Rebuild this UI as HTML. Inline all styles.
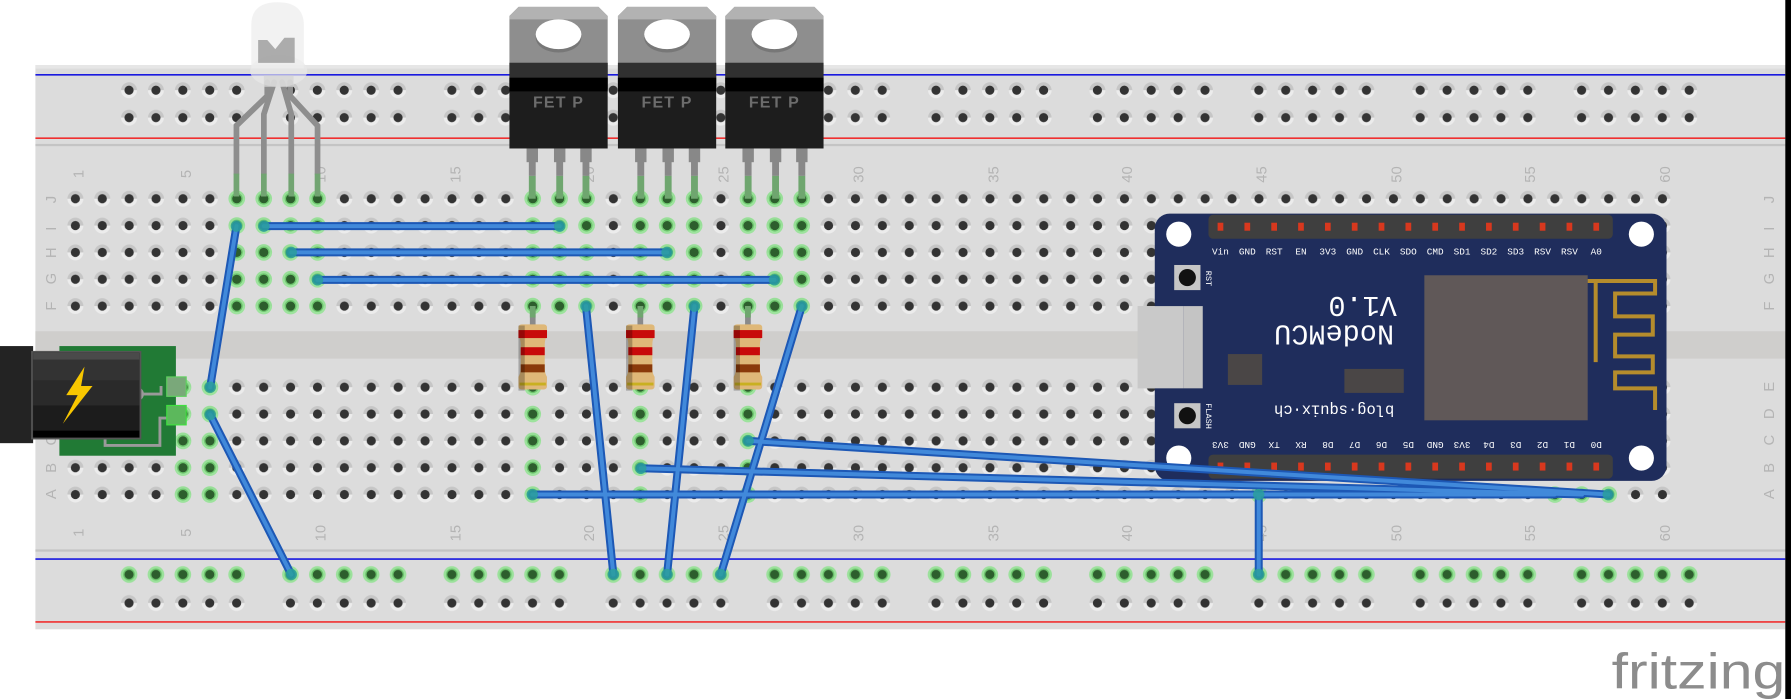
<!DOCTYPE html>
<html><head><meta charset="utf-8"><style>
html,body{margin:0;padding:0;background:#fff;overflow:hidden}
svg{display:block}
.lbl{font-family:"Liberation Sans",sans-serif;fill:#b4b4b4;font-size:13px}
.pin{font-family:"Liberation Mono",monospace;fill:#fff;font-size:8.2px;text-anchor:middle}
</style></head><body>
<svg width="1791" height="699" viewBox="0 0 1568 612" preserveAspectRatio="none" xmlns="http://www.w3.org/2000/svg">
<defs>
<g id="h"><path d="M-7,0a7,7 0 0 1 14,0z" fill="#c6c6c6"/><path d="M-7,0a7,7 0 0 0 14,0z" fill="#ececec"/><circle r="4" fill="#333"/></g>
<g id="g"><circle r="7.3" fill="#8fe28f" opacity=".85"/><circle r="5.2" fill="#6dc66d"/><circle r="4" fill="#2d5e2d"/></g>
<pattern id="pt" patternUnits="userSpaceOnUse" x="54.225" y="162.25" width="23.55" height="23.5"><use href="#h" x="11.775" y="11.75"/></pattern>
<pattern id="pb" patternUnits="userSpaceOnUse" x="54.225" y="327.25" width="23.55" height="23.5"><use href="#h" x="11.775" y="11.75"/></pattern>
<pattern id="pr1" patternUnits="userSpaceOnUse" x="101.2" y="67" width="141.3" height="24"><use href="#h" x="11.775" y="12"/><use href="#h" x="35.325" y="12"/><use href="#h" x="58.875" y="12"/><use href="#h" x="82.425" y="12"/><use href="#h" x="105.975" y="12"/></pattern>
<pattern id="pr2" patternUnits="userSpaceOnUse" x="101.2" y="516" width="141.3" height="24"><use href="#h" x="11.775" y="12"/><use href="#h" x="35.325" y="12"/><use href="#h" x="58.875" y="12"/><use href="#h" x="82.425" y="12"/><use href="#h" x="105.975" y="12"/></pattern>
<pattern id="pg" patternUnits="userSpaceOnUse" x="101.2" y="491" width="141.3" height="24"><use href="#g" x="11.775" y="12"/><use href="#g" x="35.325" y="12"/><use href="#g" x="58.875" y="12"/><use href="#g" x="82.425" y="12"/><use href="#g" x="105.975" y="12"/></pattern>
<g id="gcol"><use href="#g" y="174"/><use href="#g" y="197.5"/><use href="#g" y="221"/><use href="#g" y="244.5"/><use href="#g" y="268"/></g>
<g id="gcolb"><use href="#g" y="339"/><use href="#g" y="362.5"/><use href="#g" y="386"/><use href="#g" y="409.5"/><use href="#g" y="433"/></g>
<g id="fet">
 <polygon points="0,14 8,6 78,6 86,14 86,55 0,55" fill="#8e8e8e"/>
 <polygon points="0,14 8,6 78,6 86,14 86,17 0,17" fill="#b2b2b2"/>
 <ellipse cx="43" cy="33" rx="20" ry="13" fill="#777"/>
 <ellipse cx="43" cy="30" rx="20" ry="13" fill="#fff"/>
 <rect x="0" y="55" width="86" height="75" fill="#1d1d1d"/>
 <rect x="0" y="55" width="86" height="23" fill="#303030"/>
 <rect x="0" y="68" width="86" height="12" fill="#000"/>
 <text x="43" y="94" text-anchor="middle" font-family="Liberation Sans,sans-serif" font-weight="bold" font-size="14" letter-spacing="1" fill="#6c6c6c">FET P</text>
 <rect x="15" y="130" width="10" height="12" fill="#888"/><rect x="39" y="130" width="10" height="12" fill="#888"/><rect x="62" y="130" width="10" height="12" fill="#888"/>
 <rect x="17" y="140" width="6" height="14" fill="#888"/><rect x="41" y="140" width="6" height="14" fill="#888"/><rect x="64" y="140" width="6" height="14" fill="#888"/>
 <rect x="17" y="154" width="6" height="20" fill="#6fa66f"/><rect x="41" y="154" width="6" height="20" fill="#6fa66f"/><rect x="64" y="154" width="6" height="20" fill="#6fa66f"/>
</g>
<g id="res">
 <rect x="-2.5" y="268" width="5" height="72" fill="#8a8a8a"/>
 <rect x="-2.5" y="268" width="5" height="10" fill="#6fa66f"/><rect x="-2.5" y="328" width="5" height="11" fill="#6fa66f"/>
 <path d="M-12.5,287q0,-3 3,-3h19q3,0 3,3v7q-2,3 -2,8v20q0,5 2,8v8q0,3 -3,3h-19q-3,0 -3,-3v-8q2,-3 2,-8v-20q0,-5 -2,-8z" fill="#dfb878"/>
 <rect x="-12.5" y="289" width="25" height="7" fill="#c80a0a"/>
 <rect x="-10.5" y="304" width="21" height="7" fill="#c80a0a"/>
 <rect x="-10.5" y="319" width="21" height="7" fill="#8a3a0a"/>
 <rect x="-11.5" y="335" width="23" height="2.5" fill="#c9b020"/>
 <rect x="-12.5" y="285" width="5.5" height="57" fill="#000" opacity=".25"/>
</g>
</defs>

<!-- breadboard -->
<rect x="31" y="57" width="1532" height="494" fill="#dcdcdc"/>
<rect x="31" y="57" width="1532" height="3" fill="#e6e6e6"/>
<line x1="31" y1="65.5" x2="1563" y2="65.5" stroke="#1a1ae0" stroke-width="1.4"/>
<line x1="31" y1="121" x2="1563" y2="121" stroke="#f03030" stroke-width="1.4"/>
<rect x="31" y="126" width="1532" height="2" fill="#c4c4c4"/>
<rect x="31" y="290" width="1532" height="24" fill="#cfcecc"/>
<rect x="31" y="481" width="1532" height="2" fill="#c4c4c4"/>
<line x1="31" y1="489.5" x2="1563" y2="489.5" stroke="#1a1ae0" stroke-width="1.4"/>
<line x1="31" y1="544.5" x2="1563" y2="544.5" stroke="#f03030" stroke-width="1.4"/>

<rect x="101.2" y="67" width="1413" height="48" fill="url(#pr1)"/>
<rect x="54.225" y="162.25" width="1413" height="117.5" fill="url(#pt)"/>
<rect x="54.225" y="327.25" width="1413" height="117.5" fill="url(#pb)"/>
<rect x="101.2" y="491" width="1413" height="24" fill="url(#pg)"/>
<rect x="101.2" y="516" width="1413" height="24" fill="url(#pr2)"/>

<!-- labels -->
<g class="lbl">
<text transform="translate(73,156) rotate(-90)">1</text>
<text transform="translate(167,156) rotate(-90)">5</text>
<text transform="translate(285,160) rotate(-90)">10</text>
<text transform="translate(403,160) rotate(-90)">15</text>
<text transform="translate(520,160) rotate(-90)">20</text>
<text transform="translate(638,160) rotate(-90)">25</text>
<text transform="translate(756,160) rotate(-90)">30</text>
<text transform="translate(874,160) rotate(-90)">35</text>
<text transform="translate(991,160) rotate(-90)">40</text>
<text transform="translate(1109,160) rotate(-90)">45</text>
<text transform="translate(1227,160) rotate(-90)">50</text>
<text transform="translate(1344,160) rotate(-90)">55</text>
<text transform="translate(1462,160) rotate(-90)">60</text>
<text transform="translate(73,470) rotate(-90)">1</text>
<text transform="translate(167,470) rotate(-90)">5</text>
<text transform="translate(285,474) rotate(-90)">10</text>
<text transform="translate(403,474) rotate(-90)">15</text>
<text transform="translate(520,474) rotate(-90)">20</text>
<text transform="translate(638,474) rotate(-90)">25</text>
<text transform="translate(756,474) rotate(-90)">30</text>
<text transform="translate(874,474) rotate(-90)">35</text>
<text transform="translate(991,474) rotate(-90)">40</text>
<text transform="translate(1109,474) rotate(-90)">45</text>
<text transform="translate(1227,474) rotate(-90)">50</text>
<text transform="translate(1344,474) rotate(-90)">55</text>
<text transform="translate(1462,474) rotate(-90)">60</text>
<text transform="translate(49,178) rotate(-90)">J</text><text transform="translate(49,202) rotate(-90)">I</text><text transform="translate(49,226) rotate(-90)">H</text><text transform="translate(49,249) rotate(-90)">G</text><text transform="translate(49,272) rotate(-90)">F</text>
<text transform="translate(49,343) rotate(-90)">E</text><text transform="translate(49,367) rotate(-90)">D</text><text transform="translate(49,390) rotate(-90)">C</text><text transform="translate(49,414) rotate(-90)">B</text><text transform="translate(49,437) rotate(-90)">A</text>
<text transform="translate(1553,178) rotate(-90)">J</text><text transform="translate(1553,202) rotate(-90)">I</text><text transform="translate(1553,226) rotate(-90)">H</text><text transform="translate(1553,249) rotate(-90)">G</text><text transform="translate(1553,272) rotate(-90)">F</text>
<text transform="translate(1553,343) rotate(-90)">E</text><text transform="translate(1553,367) rotate(-90)">D</text><text transform="translate(1553,390) rotate(-90)">C</text><text transform="translate(1553,414) rotate(-90)">B</text><text transform="translate(1553,437) rotate(-90)">A</text>
</g>

<!-- green holes -->
<use href="#gcol" x="207.3"/><use href="#gcol" x="230.9"/><use href="#gcol" x="254.4"/><use href="#gcol" x="278"/>
<use href="#gcol" x="466.4"/><use href="#gcol" x="489.9"/><use href="#gcol" x="513.5"/>
<use href="#gcol" x="560.6"/><use href="#gcol" x="584.1"/><use href="#gcol" x="607.7"/>
<use href="#gcol" x="654.8"/><use href="#gcol" x="678.3"/><use href="#gcol" x="701.9"/>
<use href="#gcolb" x="160.2"/><use href="#gcolb" x="183.8"/>
<use href="#gcolb" x="466.4"/><use href="#gcolb" x="560.6"/><use href="#gcolb" x="654.8"/>
<use href="#g" x="1102.2" y="433"/><use href="#g" x="1361.3" y="433"/><use href="#g" x="1384.8" y="433"/><use href="#g" x="1408.4" y="433"/>

<!-- resistors -->
<use href="#res" x="466.4"/><use href="#res" x="560.6"/><use href="#res" x="654.8"/>

<!-- LED -->
<g fill="none" stroke-width="5" stroke-linecap="round">
<path d="M234,72 L234,84 L207,110 L207,152" stroke="#8e8e8e"/>
<path d="M240,72 L231,100 L231,152" stroke="#8e8e8e"/>
<path d="M247,72 L255,100 L255,152" stroke="#8e8e8e"/>
<path d="M254,72 L254,84 L278,110 L278,152" stroke="#8e8e8e"/>
<path d="M207,152 V172 M231,152 V172 M255,152 V172 M278,152 V172" stroke="#72a472" stroke-linecap="butt"/>
</g>
<ellipse cx="244" cy="62" rx="25" ry="14" fill="#e8e8e8" opacity=".7"/>
<path d="M220,60 V22 Q220,2 243,2 Q266,2 266,22 V60 Z" fill="#eeeeee" opacity=".75"/>
<path d="M226,35 h8 l7,8 l8,-10 h9 v22 h-32 z" fill="#9a9a9a" opacity=".8"/>
<rect x="231" y="66" width="26" height="10" fill="#d6d6d6" opacity=".8"/>

<!-- FETs -->
<use href="#fet" x="446"/><use href="#fet" x="541"/><use href="#fet" x="635"/>

<!-- power jack -->
<rect x="52" y="303" width="102" height="96" fill="#217a35"/>
<path d="M120,345 H141 V338 M150,366 H140 V390 H92 V383" fill="none" stroke="#9a9a9a" stroke-width="2.5"/>
<circle cx="120" cy="345" r="6" fill="#9a9a9a"/>
<rect x="146" y="330" width="17" height="17" fill="#7aa87a" stroke="#5fd05f"/>
<rect x="146" y="355" width="17" height="17" fill="#5cb85c" stroke="#3fe03f"/>
<rect x="0" y="303" width="29" height="85" fill="#232323"/>
<rect x="28" y="308" width="95" height="76" fill="#2a2a2a" stroke="#555" stroke-width="1.5"/>
<rect x="29" y="309" width="93" height="6" fill="#4a4a4a"/>
<rect x="29" y="315" width="93" height="18" fill="#333"/>
<rect x="29" y="355" width="93" height="22" fill="#1c1c1c"/>
<rect x="29" y="377" width="93" height="6" fill="#000"/>
<polygon points="74,321 58,346 68,346 55,371 81,338 71,338" fill="#f8c700"/>

<!-- NodeMCU -->
<rect x="996" y="268" width="56" height="72" fill="#c9c9c9"/>
<rect x="1011" y="187" width="448" height="234" rx="13" fill="#1f2d5c"/>
<rect x="996" y="268" width="40" height="72" fill="#c9c9c9"/>
<rect x="1036" y="268" width="17" height="72" fill="#c4c4c4"/>
<g fill="#fff"><circle cx="1032" cy="205" r="11"/><circle cx="1437" cy="205" r="11"/><circle cx="1032" cy="401" r="11"/><circle cx="1437" cy="401" r="11"/></g>
<rect x="1058" y="188" width="354" height="21" rx="4" fill="#3f3f3f"/>
<rect x="1058" y="398" width="354" height="21" rx="4" fill="#3f3f3f"/>
<g fill="#d8381e">
<rect x="1066" y="195" width="5" height="7"/><rect x="1089.5" y="195" width="5" height="7"/><rect x="1113" y="195" width="5" height="7"/><rect x="1136.5" y="195" width="5" height="7"/><rect x="1160" y="195" width="5" height="7"/><rect x="1183.5" y="195" width="5" height="7"/><rect x="1207" y="195" width="5" height="7"/><rect x="1230.5" y="195" width="5" height="7"/><rect x="1254" y="195" width="5" height="7"/><rect x="1277.5" y="195" width="5" height="7"/><rect x="1301" y="195" width="5" height="7"/><rect x="1324.5" y="195" width="5" height="7"/><rect x="1348" y="195" width="5" height="7"/><rect x="1371.5" y="195" width="5" height="7"/><rect x="1395" y="195" width="5" height="7"/>
<rect x="1066" y="405" width="5" height="7"/><rect x="1089.5" y="405" width="5" height="7"/><rect x="1113" y="405" width="5" height="7"/><rect x="1136.5" y="405" width="5" height="7"/><rect x="1160" y="405" width="5" height="7"/><rect x="1183.5" y="405" width="5" height="7"/><rect x="1207" y="405" width="5" height="7"/><rect x="1230.5" y="405" width="5" height="7"/><rect x="1254" y="405" width="5" height="7"/><rect x="1277.5" y="405" width="5" height="7"/><rect x="1301" y="405" width="5" height="7"/><rect x="1324.5" y="405" width="5" height="7"/><rect x="1348" y="405" width="5" height="7"/><rect x="1371.5" y="405" width="5" height="7"/><rect x="1395" y="405" width="5" height="7"/>
</g>
<g class="pin">
<text x="1068.5" y="223">Vin</text><text x="1092" y="223">GND</text><text x="1115.5" y="223">RST</text><text x="1139" y="223">EN</text><text x="1162.5" y="223">3V3</text><text x="1186" y="223">GND</text><text x="1209.5" y="223">CLK</text><text x="1233" y="223">SDO</text><text x="1256.5" y="223">CMD</text><text x="1280" y="223">SD1</text><text x="1303.5" y="223">SD2</text><text x="1327" y="223">SD3</text><text x="1350.5" y="223">RSV</text><text x="1374" y="223">RSV</text><text x="1397.5" y="223">A0</text>
</g>
<g class="pin">
<text transform="translate(1068.5,387) rotate(180)">3V3</text><text transform="translate(1092,387) rotate(180)">GND</text><text transform="translate(1115.5,387) rotate(180)">TX</text><text transform="translate(1139,387) rotate(180)">RX</text><text transform="translate(1162.5,387) rotate(180)">D8</text><text transform="translate(1186,387) rotate(180)">D7</text><text transform="translate(1209.5,387) rotate(180)">D6</text><text transform="translate(1233,387) rotate(180)">D5</text><text transform="translate(1256.5,387) rotate(180)">GND</text><text transform="translate(1280,387) rotate(180)">3V3</text><text transform="translate(1303.5,387) rotate(180)">D4</text><text transform="translate(1327,387) rotate(180)">D3</text><text transform="translate(1350.5,387) rotate(180)">D2</text><text transform="translate(1374,387) rotate(180)">D1</text><text transform="translate(1397.5,387) rotate(180)">D0</text>
</g>
<rect x="1247" y="241" width="143" height="127" fill="#605858"/>
<path d="M1390,246 H1449 V257 H1414 V277 H1447 V293 H1414 V312 H1447 V326 H1414 V340 H1449 V359 M1397,246 V317" fill="none" stroke="#b58c2c" stroke-width="3.5"/>
<rect x="1075" y="310" width="30" height="27" fill="#4a4646"/>
<rect x="1177" y="323" width="52" height="21" fill="#4a4646"/>
<rect x="1028" y="232" width="23" height="22" fill="#c6c6c6"/><circle cx="1039.5" cy="243" r="7.5" fill="#111"/>
<rect x="1028" y="353" width="23" height="22" fill="#c6c6c6"/><circle cx="1039.5" cy="364" r="7.5" fill="#111"/>
<text transform="translate(1056,237) rotate(90)" font-family="Liberation Mono,monospace" font-size="7.5" fill="#fff">RST</text>
<text transform="translate(1056,353) rotate(90)" font-family="Liberation Mono,monospace" font-size="7.5" fill="#fff">FLASH</text>
<g font-family="Liberation Mono,monospace" fill="#fff" text-anchor="middle">
<text transform="translate(1193,260) rotate(180)" font-size="25">V1.0</text>
<text transform="translate(1168,285) rotate(180)" font-size="25">NodeMCU</text>
<text transform="translate(1168,355) rotate(180)" font-size="13.5">blog·squix·ch</text>
</g>

<!-- wires -->
<g fill="none" stroke-linecap="round">
<g stroke="#1d58b5" stroke-width="7">
<path d="M207,198 L184,339"/><path d="M231,198 H490"/><path d="M255,221 H584"/><path d="M278,245 H678"/>
<path d="M184,363 L255,503"/><path d="M513,268 L537,503"/><path d="M608,268 L584,503"/><path d="M702,268 L631,503"/>
<path d="M466,433 L1361,433"/><path d="M561,410 L1385,433"/><path d="M655,386 L1408,433"/><path d="M1102,433 V503"/>
</g>
<g stroke="#4189da" stroke-width="3.5">
<path d="M207,198 L184,339"/><path d="M231,198 H490"/><path d="M255,221 H584"/><path d="M278,245 H678"/>
<path d="M184,363 L255,503"/><path d="M513,268 L537,503"/><path d="M608,268 L584,503"/><path d="M702,268 L631,503"/>
<path d="M466,433 L1361,433"/><path d="M561,410 L1385,433"/><path d="M655,386 L1408,433"/><path d="M1102,433 V503"/>
</g>
</g>
<g fill="#2a9f9c" opacity=".85">
<circle cx="207" cy="198" r="5"/><circle cx="184" cy="339" r="5"/><circle cx="231" cy="198" r="5"/><circle cx="490" cy="198" r="5"/>
<circle cx="255" cy="221" r="5"/><circle cx="584" cy="221" r="5"/><circle cx="278" cy="245" r="5"/><circle cx="678" cy="245" r="5"/>
<circle cx="184" cy="363" r="5"/><circle cx="255" cy="503" r="5"/><circle cx="513" cy="268" r="5"/><circle cx="537" cy="503" r="5"/>
<circle cx="608" cy="268" r="5"/><circle cx="584" cy="503" r="5"/><circle cx="702" cy="268" r="5"/><circle cx="631" cy="503" r="5"/>
<circle cx="466" cy="433" r="5"/><circle cx="561" cy="410" r="5"/><circle cx="655" cy="386" r="5"/><circle cx="1408" cy="433" r="5"/>
<circle cx="1102" cy="433" r="5"/><circle cx="1102" cy="503" r="5"/>
</g>

<!-- logo -->
<text x="1411" y="603" font-family="Liberation Sans,sans-serif" font-size="44" fill="#8c8c8c" textLength="152" lengthAdjust="spacingAndGlyphs">fritzing</text>
<rect x="1563" y="0" width="5" height="612" fill="#000"/>
</svg>
</body></html>
